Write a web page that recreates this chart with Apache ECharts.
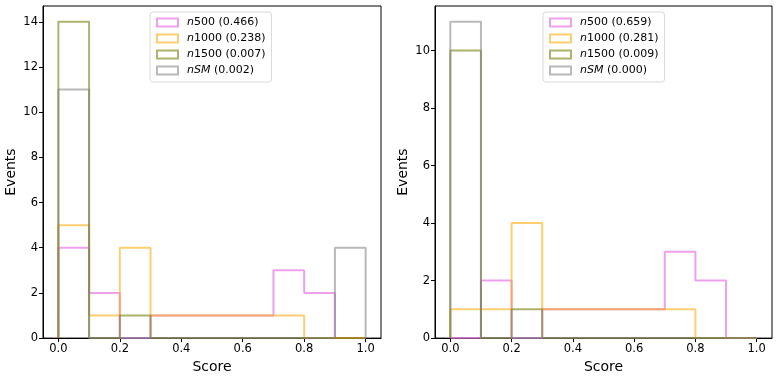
<!DOCTYPE html>
<html>
<head>
<meta charset="utf-8">
<script src="https://cdn.jsdelivr.net/npm/echarts@6/dist/echarts.min.js"></script>
<style>
  html, body { margin: 0; padding: 0; background: #fff; }
  #chart { width: 781px; height: 379px; }
</style>
</head>
<body>
<div id="chart"></div>
<script>
// bin edges of the score histograms
var binEdges = [0.0, 0.1, 0.2, 0.3, 0.4, 0.5, 0.6, 0.7, 0.8, 0.9, 1.0];
var xTicks = [0.0, 0.2, 0.4, 0.6, 0.8, 1.0];
var yTicksLeft = [0, 2, 4, 6, 8, 10, 12, 14];
var yTicksRight = [0, 2, 4, 6, 8, 10];

var seriesKeys = ['n500', 'n1000', 'n1500', 'nSM'];
var scoresLeft = ['0.466', '0.238', '0.007', '0.002'];
var scoresRight = ['0.659', '0.281', '0.009', '0.000'];

// left panel counts per bin
var leftN500  = [4, 2, 0, 1, 1, 1, 1, 3, 2, 0];
var leftN1000 = [5, 1, 4, 1, 1, 1, 1, 1, 0, 0];
var leftN1500 = [14, 0, 1, 0, 0, 0, 0, 0, 0, 0];
var leftNSM   = [11, 0, 0, 0, 0, 0, 0, 0, 0, 4];

// right panel counts per bin
var rightN500  = [0, 2, 0, 1, 1, 1, 1, 3, 2, 0];
var rightN1000 = [1, 1, 4, 1, 1, 1, 1, 1, 0, 0];
var rightN1500 = [10, 0, 1, 0, 0, 0, 0, 0, 0, 0];
var rightNSM   = [11, 0, 0, 0, 0, 0, 0, 0, 0, 0];

var colors = ['rgba(228,110,228,0.65)', 'rgba(255,165,0,0.55)', 'rgba(118,128,10,0.6)', 'rgba(128,128,128,0.55)'];

// step outline of a histogram (like histtype='step')
function stepPoints(counts) {
    var pts = [[binEdges[0], 0]];
    for (var i = 0; i < counts.length; i++) {
        pts.push([binEdges[i], counts[i]]);
        pts.push([binEdges[i + 1], counts[i]]);
    }
    pts.push([binEdges[binEdges.length - 1], 0]);
    return pts;
}

function legendLabel(name) {
    var parts = name.split(' ');
    if (parts[0] === 'nSM') return '{i|nSM} ' + parts[1];
    return '{i|n}' + parts[0].slice(1) + ' ' + parts[1];
}

var fontFamily = 'DejaVu Sans';

function makeAxes(idx, yMax, yTicks) {
    var xAxis = {
        type: 'value', gridIndex: idx, min: -0.05, max: 1.05,
        name: 'Score', nameLocation: 'middle', nameGap: 19,
        nameTextStyle: { fontSize: 14, color: '#000', fontFamily: fontFamily },
        axisLine: { onZero: false, lineStyle: { color: '#000' } },
        axisTick: { length: 4, lineStyle: { color: '#000' }, customValues: xTicks },
        axisLabel: { fontSize: 11.5, color: '#000', fontFamily: fontFamily, margin: 5,
            customValues: xTicks, formatter: function (v) { return v.toFixed(1); } },
        splitLine: { show: false }
    };
    var yAxis = {
        type: 'value', gridIndex: idx, min: 0, max: yMax,
        name: 'Events', nameLocation: 'middle', nameGap: 25, nameRotate: 90,
        nameTextStyle: { fontSize: 14, color: '#000', fontFamily: fontFamily },
        axisLine: { show: true, onZero: false, lineStyle: { color: '#000' } },
        axisTick: { show: true, length: 4, lineStyle: { color: '#000' }, customValues: yTicks },
        axisLabel: { fontSize: 11.5, color: '#000', fontFamily: fontFamily, margin: 5, customValues: yTicks },
        splitLine: { show: false }
    };
    return [xAxis, yAxis];
}

var leftData = [leftN500, leftN1000, leftN1500, leftNSM];
var rightData = [rightN500, rightN1000, rightN1500, rightNSM];

var series = [];
var legends = [];
[[leftData, scoresLeft, 150], [rightData, scoresRight, 543]].forEach(function (panel, p) {
    var names = [];
    panel[0].forEach(function (counts, k) {
        var name = seriesKeys[k] + ' (' + panel[1][k] + ')';
        names.push({
            name: name, icon: 'rect',
            itemStyle: { color: '#fff', borderColor: colors[k], borderWidth: 2 }
        });
        series.push({
            name: name, type: 'line', xAxisIndex: p, yAxisIndex: p,
            data: stepPoints(counts), showSymbol: false, animation: false,
            lineStyle: { color: colors[k], width: 2 },
            itemStyle: { color: colors[k] }
        });
    });
    legends.push({
        data: names, orient: 'vertical', left: panel[2], top: 12,
        itemWidth: 21, itemHeight: 8, itemGap: 5,
        padding: [5, 6, 6, 6],
        backgroundColor: '#fff', borderColor: '#d9d9d9', borderWidth: 1, borderRadius: 3,
        selectedMode: false,
        formatter: legendLabel,
        textStyle: {
            fontSize: 11, color: '#000', fontFamily: fontFamily, padding: [0, 0, 0, 4],
            rich: { i: { fontStyle: 'italic', fontSize: 11, fontFamily: fontFamily, color: '#000' } }
        }
    });
});

var leftAxes = makeAxes(0, 14.7, yTicksLeft);
var rightAxes = makeAxes(1, 11.55, yTicksRight);

var myChart = echarts.init(document.getElementById('chart'));
myChart.setOption({
    animation: false,
    grid: [
        { left: 43, top: 6, width: 338, height: 336, show: true, borderColor: '#000', borderWidth: 1 },
        { left: 435, top: 6, width: 337, height: 336, show: true, borderColor: '#000', borderWidth: 1 }
    ],
    legend: legends,
    xAxis: [leftAxes[0], rightAxes[0]],
    yAxis: [leftAxes[1], rightAxes[1]],
    series: series
});
</script>
</body>
</html>
